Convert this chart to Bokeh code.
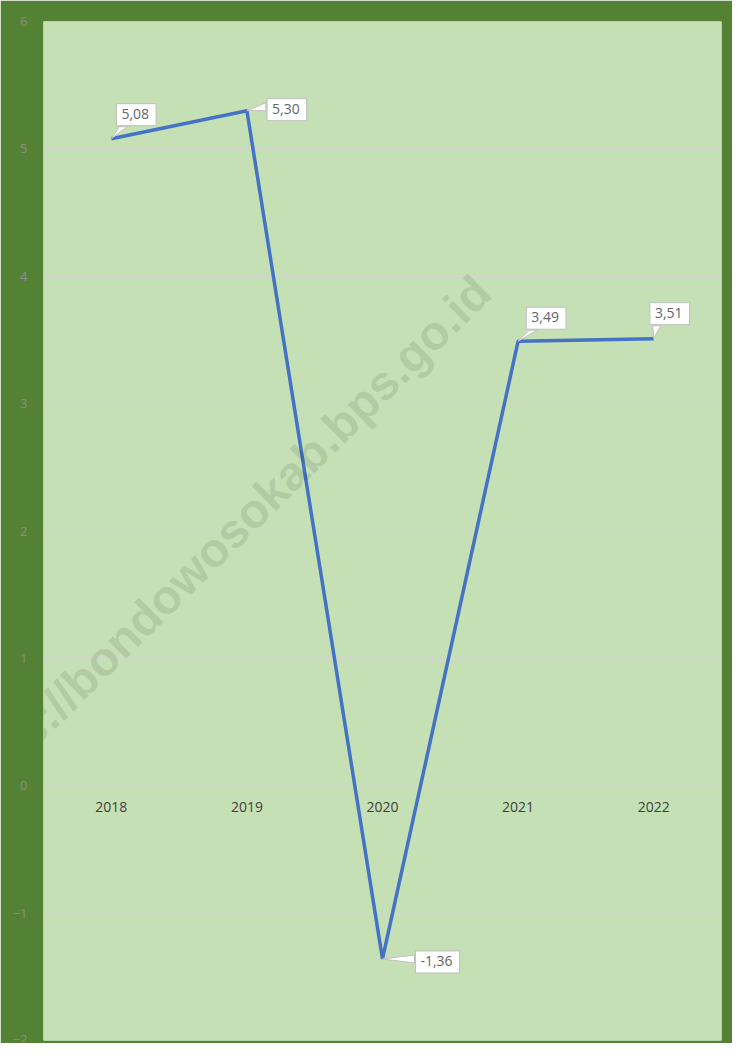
from bokeh.plotting import figure
from bokeh.models import FactorRange, Range1d, FixedTicker, Label
from bokeh.core.properties import value
from bokeh.embed import file_html
from bokeh.resources import INLINE

years = ["2018", "2019", "2020", "2021", "2022"]
growth = [5.08, 5.30, -1.36, 3.49, 3.51]
labels = ["5,08", "5,30", "-1,36", "3,49", "3,51"]
y_ticks = [-2, -1, 0, 1, 2, 3, 4, 5, 6]

# label box centre offsets (pixels, relative to point; +y = down) - style only
lab_dx = [25, 40, 55, 28, 16]
lab_dy = [-24, -1, 3, -23, -25]
box_w = [42, 44, 48, 42, 42]
box_h = 26

W, H = 732, 1043
BL, BR, BT, BB = 43, 11, 21, 3
FW, FH = W - BL - BR, H - BT - BB
px_x = FW / len(years)                    # px per factor unit
px_y = FH / (y_ticks[-1] - y_ticks[0])    # px per y unit

p = figure(x_range=FactorRange(*years), y_range=Range1d(y_ticks[0], y_ticks[-1]),
           width=W, height=H, output_backend="svg", toolbar_location=None,
           min_border_left=BL, min_border_right=BR, min_border_top=BT, min_border_bottom=BB)
p.border_fill_color = "#548235"
p.background_fill_color = "#C5E0B4"
p.outline_line_color = None

p.xaxis.visible = False
p.xgrid.grid_line_color = None
p.ygrid.grid_line_color = "#D4D4D4"
p.ygrid.grid_line_width = 1.3
p.yaxis.ticker = FixedTicker(ticks=y_ticks)
p.yaxis.axis_line_color = None
p.yaxis.major_tick_line_color = None
p.yaxis.major_tick_out = 0
p.yaxis.major_tick_in = 0
p.yaxis.minor_tick_line_color = None
p.yaxis.major_label_standoff = 16
p.yaxis.major_label_text_color = "#8C8C8C"
p.yaxis.major_label_text_font = "Open Sans"
p.yaxis.major_label_text_font_size = "13px"

# watermark
wm = Label(x=176, y=497, x_units="screen", y_units="screen",
           text="https://bondowosokab.bps.go.id", angle=44.6, angle_units="deg",
           text_align="center", text_baseline="alphabetic",
           text_font="Liberation Sans", text_font_style="bold", text_font_size="48px",
           text_color="black", text_alpha=0.11)
p.add_layout(wm)

# category labels at zero line
p.text(x=years, y=[0] * len(years), text=years, y_offset=21, text_align="center",
       text_baseline="middle", text_font=value("Open Sans"), text_font_size="14px",
       text_color="#404040")

p.line(x=years, y=growth, line_color="#4472C4", line_width=3.5)

# callout pointers
xs, ys = [], []
for yr, v, dx, dy, bw in zip(years, growth, lab_dx, lab_dy, box_w):
    if dy < -8:   # box above the point: base on bottom edge, left part
        by = dy + box_h / 2 - 1
        pts = [(0, 0), (dx - bw / 2 + 4, by), (dx - bw / 2 + 12, by)]
    else:         # box to the right: base on left edge
        bx = dx - bw / 2 + 1
        pts = [(0, 0), (bx, dy - 7), (bx, dy + 1)]
    xs.append([(yr, px / px_x) for px, _ in pts])
    ys.append([v - py / px_y for _, py in pts])
p.patches(xs=xs, ys=ys, fill_color="white", line_color="#BFBFBF", line_width=1)

p.text(x=years, y=growth, text=labels, x_offset=lab_dx, y_offset=lab_dy,
       text_align="center", text_baseline="middle", text_font=value("Open Sans"),
       text_font_size="14px", text_color="#666666",
       background_fill_color="white", border_line_color="#BFBFBF",
       padding=[5, 7, 5, 7])

open("out.html", "w").write(file_html(p, INLINE))
